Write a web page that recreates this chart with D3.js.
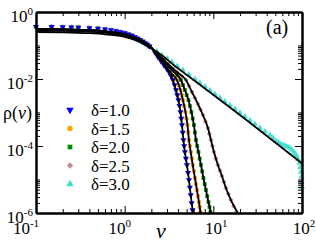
<!DOCTYPE html>
<html>
<head>
<meta charset="utf-8">
<script src="https://cdn.jsdelivr.net/npm/d3@7"></script>
<style>
body { margin: 0; background: #fff; }
</style>
</head>
<body>
<svg id="chart" width="316" height="242" font-family="'Times New Roman', 'Liberation Serif', Times, serif"></svg>
<script>
// tick labels
var xMajor = [0.1, 1, 10, 100];
var xExp = ["-1", "0", "1", "2"];
var xLabelShift = [-10, -5, 3, 2];
var yMajor = [1, 1e-2, 1e-4, 1e-6];
var yExp = ["0", "-2", "-4", "-6"];

// legend
var labels = ["\u03b4=1.0", "\u03b4=1.5", "\u03b4=2.0", "\u03b4=2.5", "\u03b4=3.0"];
var colors = ["#0000ff", "#ffa500", "#008b00", "#bc8f8f", "#40e0d0"];

// flat part of the distributions (same for all delta)
var vHead = [0.1, 0.15, 0.2, 0.25, 0.3, 0.4, 0.5, 0.6, 0.7, 0.8, 0.9, 1.0, 1.1, 1.2, 1.3, 1.4, 1.5, 1.6, 1.7, 1.8, 1.9];
var rhoHead = [0.364, 0.3615, 0.357, 0.352, 0.347, 0.335, 0.322, 0.307, 0.290, 0.271, 0.253, 0.236, 0.218, 0.199, 0.180, 0.162, 0.147, 0.132, 0.119, 0.107, 0.095];
var rhoHeadCyan = [0.36, 0.356, 0.35, 0.345, 0.34, 0.328, 0.314, 0.298, 0.280, 0.260, 0.242, 0.224, 0.206, 0.187, 0.169, 0.152, 0.138, 0.124, 0.112, 0.101, 0.092];

// tails, simulation points
var vD10 = [2.03, 2.2, 2.37, 2.57, 2.77, 2.97, 3.16, 3.33, 3.50, 3.65, 3.79, 3.92, 4.04, 4.15, 4.26, 4.35, 4.43, 4.52, 4.60, 4.69, 4.78, 4.91, 5.04, 5.18, 5.31, 5.44, 5.56, 5.69, 5.81];
var rhoD10 = [0.0842, 0.062, 0.0454, 0.034, 0.0262, 0.0205, 0.0162, 0.0124, 9.33e-3, 6.6e-3, 4.69e-3, 3.3e-3, 2.36e-3, 1.58e-3, 1.03e-3, 6.6e-4, 4.23e-4, 2.55e-4, 1.51e-4, 1.0e-4, 6.62e-5, 4.2e-5, 2.71e-5, 1.6e-5, 9.66e-6, 5.8e-6, 3.45e-6, 2.0e-6, 1.23e-6];
var vD15 = [2.03, 2.2, 2.41, 2.62, 2.85, 3.08, 3.33, 3.60, 3.89, 4.07, 4.26, 4.40, 4.54, 4.70, 4.85, 4.98, 5.11, 5.21, 5.31, 5.43, 5.56, 5.71, 5.86, 6.03, 6.20, 6.36, 6.53, 6.70, 6.88, 7.0, 7.15];
var rhoD15 = [0.0842, 0.062, 0.0454, 0.033, 0.0244, 0.019, 0.0151, 0.0118, 9.33e-3, 6.6e-3, 4.69e-3, 3.3e-3, 2.36e-3, 1.55e-3, 1.03e-3, 6.6e-4, 4.23e-4, 2.55e-4, 1.51e-4, 1.0e-4, 6.62e-5, 4.2e-5, 2.71e-5, 1.75e-5, 1.11e-5, 7.3e-6, 4.86e-6, 3.2e-6, 2.13e-6, 1.5e-6, 1.07e-6];
var vD20 = [2.03, 2.22, 2.44, 2.67, 2.92, 3.20, 3.50, 3.88, 4.31, 4.54, 4.78, 5.0, 5.24, 5.45, 5.66, 5.85, 6.04, 6.20, 6.37, 6.58, 6.79, 7.02, 7.25, 7.49, 7.73, 7.99, 8.25, 8.53, 8.81, 9.05, 9.28];
var rhoD20 = [0.0842, 0.064, 0.0486, 0.037, 0.0280, 0.022, 0.0173, 0.0128, 9.33e-3, 6.6e-3, 4.69e-3, 3.3e-3, 2.36e-3, 1.55e-3, 1.03e-3, 6.6e-4, 4.23e-4, 2.55e-4, 1.51e-4, 1.0e-4, 6.62e-5, 4.2e-5, 2.71e-5, 1.75e-5, 1.11e-5, 7.3e-6, 4.86e-6, 3.2e-6, 2.13e-6, 1.5e-6, 1.07e-6];
var vD25 = [2.03, 2.25, 2.50, 2.78, 3.08, 3.45, 3.89, 4.37, 4.91, 5.31, 5.74, 6.21, 6.71, 7.16, 7.63, 8.15, 8.69, 9.04, 9.40, 9.77, 10.16, 10.70, 11.27, 11.87, 12.50, 13.16, 13.87, 14.80, 15.79, 16.95, 18.21];
var rhoD25 = [0.0842, 0.064, 0.0486, 0.037, 0.0280, 0.021, 0.0162, 0.0123, 9.33e-3, 6.2e-3, 4.09e-3, 2.7e-3, 1.79e-3, 1.23e-3, 8.42e-4, 5.4e-4, 3.45e-4, 2.3e-4, 1.51e-4, 1.0e-4, 6.62e-5, 4.2e-5, 2.71e-5, 1.85e-5, 1.27e-5, 8.4e-6, 5.57e-6, 3.7e-6, 2.44e-6, 1.6e-6, 1.07e-6];
var vD30 = [2.03, 2.31, 2.63, 3.0, 3.41, 3.93, 4.54, 5.3, 6.20, 7.05, 8.04, 9.15, 10.42, 11.85, 13.51, 15.4, 17.52, 19.95, 22.72, 25.86, 29.44, 33.5, 38.16, 43.47, 47.0, 50.79, 54.2, 57.82, 61.7, 65.84, 69.4, 73.04, 77.0, 81.03, 84.3, 87.60, 90.5, 93.48, 95.5, 97.19, 98.45, 99.2, 99.75];
var rhoD30 = [0.0842, 0.066, 0.0520, 0.041, 0.0322, 0.0245, 0.0186, 0.0138, 0.0100, 7.7e-3, 5.97e-3, 4.6e-3, 3.57e-3, 2.75e-3, 2.13e-3, 1.65e-3, 1.27e-3, 9.8e-4, 7.60e-4, 5.9e-4, 4.54e-4, 3.5e-4, 2.71e-4, 2.13e-4, 1.75e-4, 1.41e-4, 1.27e-4, 1.15e-4, 1.07e-4, 1.0e-4, 9.3e-5, 8.71e-5, 7.6e-5, 6.62e-5, 5.8e-5, 5.03e-5, 4.0e-5, 3.11e-5, 2.3e-5, 1.67e-5, 1.2e-5, 8.2e-6, 5.97e-6];

// fitted curves (black lines)
var vFitHead = [0.1, 0.2, 0.4, 0.6, 0.8, 1.0, 1.3, 1.6, 2.0];
var rhoFitHead = [0.311, 0.304, 0.286, 0.265, 0.243, 0.220, 0.173, 0.132, 0.0871];
var rhoFitHead25 = [0.280, 0.275, 0.258, 0.241, 0.220, 0.200, 0.160, 0.123, 0.0842];
var rhoFitHead30 = [0.253, 0.248, 0.233, 0.217, 0.200, 0.182, 0.146, 0.115, 0.0813];
var vFit10 = [2.37, 2.77, 3.16, 3.50, 3.79, 4.04, 4.26, 4.43, 4.60, 4.78, 5.04, 5.31, 5.56, 5.89];
var rhoFit10 = [0.0454, 0.0262, 0.0162, 9.33e-3, 4.69e-3, 2.36e-3, 1.03e-3, 4.23e-4, 1.51e-4, 6.62e-5, 2.71e-5, 9.66e-6, 3.45e-6, 1.0e-6];
var vFit15 = [2.41, 2.85, 3.33, 3.89, 4.26, 4.54, 4.85, 5.11, 5.31, 5.56, 5.86, 6.20, 6.53, 6.88, 7.2];
var rhoFit15 = [0.0454, 0.0244, 0.0151, 9.33e-3, 4.69e-3, 2.36e-3, 1.03e-3, 4.23e-4, 1.51e-4, 6.62e-5, 2.71e-5, 1.11e-5, 4.86e-6, 2.13e-6, 1.0e-6];
var vFit20 = [2.44, 2.92, 3.50, 4.31, 4.78, 5.24, 5.66, 6.04, 6.37, 6.79, 7.25, 7.73, 8.25, 8.81, 9.4];
var rhoFit20 = [0.0486, 0.0280, 0.0173, 9.33e-3, 4.69e-3, 2.36e-3, 1.03e-3, 4.23e-4, 1.51e-4, 6.62e-5, 2.71e-5, 1.11e-5, 4.86e-6, 2.13e-6, 1.0e-6];
var vFit25 = [2.50, 3.08, 3.89, 4.91, 5.74, 6.71, 7.63, 8.69, 9.40, 10.16, 11.27, 12.50, 13.87, 15.79, 18.9];
var rhoFit25 = [0.0486, 0.0280, 0.0162, 9.33e-3, 4.09e-3, 1.79e-3, 8.42e-4, 3.45e-4, 1.51e-4, 6.62e-5, 2.71e-5, 1.27e-5, 5.57e-6, 2.44e-6, 1.0e-6];
var vFit30 = [2.5, 3.69, 5.45, 25.9, 100];
var rhoFit30 = [0.0558, 0.0244, 0.01124, 4.93e-4, 3.0e-5];

function zip(v, r) { return v.map(function(d, i) { return [d, r[i]]; }); }

var series = [
  zip(vHead, rhoHead).concat(zip(vD10, rhoD10).slice(1)),
  zip(vHead, rhoHead).concat(zip(vD15, rhoD15).slice(1)),
  zip(vHead, rhoHead).concat(zip(vD20, rhoD20).slice(1)),
  zip(vHead, rhoHead).concat(zip(vD25, rhoD25).slice(1)),
  zip(vHead, rhoHeadCyan).concat(zip(vD30, rhoD30).slice(1))
];
var fits = [
  zip(vFitHead, rhoFitHead).concat(zip(vFit10, rhoFit10)),
  zip(vFitHead, rhoFitHead).concat(zip(vFit15, rhoFit15)),
  zip(vFitHead, rhoFitHead).concat(zip(vFit20, rhoFit20)),
  zip(vFitHead, rhoFitHead25).concat(zip(vFit25, rhoFit25)),
  zip(vFitHead, rhoFitHead30).concat(zip(vFit30, rhoFit30))
];

var svg = d3.select("#chart");
var pLeft = 36, pRight = 302, pTop = 12, pBottom = 213;

var x = d3.scaleLog().domain([0.1, 100]).range([pLeft, pRight]);
var y = d3.scaleLog().domain([1e-6, 1]).range([pBottom, pTop]);

// minor ticks
var xMinor = [];
[0.1, 1, 10].forEach(function(b) { for (var m = 2; m <= 9; m++) xMinor.push(b * m); });
var yMinor = [];
[1e-2, 1e-4, 1e-6].forEach(function(b) { for (var m = 2; m <= 10; m++) yMinor.push(b * m); });

svg.append("defs").append("clipPath").attr("id", "clip")
  .append("rect").attr("x", pLeft).attr("y", pTop).attr("width", pRight - pLeft).attr("height", pBottom - pTop);

// symbols
var symbols = [
  d3.symbol().type(d3.symbolTriangle).size(16),
  d3.symbol().type(d3.symbolCircle).size(16),
  d3.symbol().type(d3.symbolSquare).size(14),
  d3.symbol().type(d3.symbolSquare).size(13),
  d3.symbol().type(d3.symbolTriangle).size(16)
];
var legSymbols = [
  d3.symbol().type(d3.symbolTriangle).size(24),
  d3.symbol().type(d3.symbolCircle).size(24),
  d3.symbol().type(d3.symbolSquare).size(22),
  d3.symbol().type(d3.symbolSquare).size(20),
  d3.symbol().type(d3.symbolTriangle).size(24)
];
var rot = [180, 0, 0, 45, 0];

var order = [4, 3, 2, 1, 0];
order.forEach(function(k) {
  svg.append("g")
    .selectAll("path")
    .data(series[k])
    .enter()
    .append("path")
    .attr("d", symbols[k])
    .attr("fill", colors[k])
    .attr("transform", function(d) { return "translate(" + x(d[0]) + "," + y(d[1]) + ") rotate(" + rot[k] + ")"; });
});

var line = d3.line()
  .x(function(d) { return x(d[0]); })
  .y(function(d) { return y(d[1]); })
  .curve(d3.curveMonotoneX);

svg.append("g").attr("clip-path", "url(#clip)")
  .selectAll("path")
  .data(fits)
  .enter()
  .append("path")
  .attr("d", line)
  .attr("fill", "none")
  .attr("stroke", "#000")
  .attr("stroke-width", 1.8);

// axes, ticks pointing inside
function axisGroup(axis, tx, ty) {
  var g = svg.append("g").attr("transform", "translate(" + tx + "," + ty + ")").call(axis);
  g.selectAll("text").remove();
  g.selectAll("line").attr("stroke", "#000").attr("stroke-width", 1);
  g.select(".domain").attr("stroke", "#000").attr("stroke-width", 2);
  return g;
}
axisGroup(d3.axisBottom(x).tickValues(xMajor).tickSize(-7).tickSizeOuter(0), 0, pBottom);
axisGroup(d3.axisBottom(x).tickValues(xMinor).tickSize(-4).tickSizeOuter(0), 0, pBottom);
axisGroup(d3.axisTop(x).tickValues(xMajor).tickSize(-7).tickSizeOuter(0), 0, pTop);
axisGroup(d3.axisTop(x).tickValues(xMinor).tickSize(-4).tickSizeOuter(0), 0, pTop);
axisGroup(d3.axisLeft(y).tickValues(yMajor).tickSize(-7).tickSizeOuter(0), pLeft, 0);
axisGroup(d3.axisLeft(y).tickValues(yMinor).tickSize(-4).tickSizeOuter(0), pLeft, 0);
axisGroup(d3.axisRight(y).tickValues(yMajor).tickSize(-7).tickSizeOuter(0), pRight, 0);
axisGroup(d3.axisRight(y).tickValues(yMinor).tickSize(-4).tickSizeOuter(0), pRight, 0);

// tick labels with exponents
var xl = svg.selectAll(".xl").data(xMajor).enter().append("text")
  .attr("class", "xl")
  .attr("x", function(d, i) { return x(d) + xLabelShift[i]; })
  .attr("y", 234)
  .attr("text-anchor", "middle")
  .style("font-size", "17px")
  .text("10");
xl.append("tspan").attr("dy", -7).style("font-size", "11px").text(function(d, i) { return xExp[i]; });

var yl = svg.selectAll(".yl").data(yMajor).enter().append("text")
  .attr("class", "yl")
  .attr("x", 33)
  .attr("y", function(d) { return y(d) + 10; })
  .attr("text-anchor", "end")
  .style("font-size", "17px")
  .text("10");
yl.append("tspan").attr("dy", -7).style("font-size", "11px").text(function(d, i) { return yExp[i]; });

// axis titles
svg.append("text").attr("x", 161).attr("y", 238).attr("text-anchor", "middle")
  .style("font-size", "22px").style("font-style", "italic").text("v");
var yt = svg.append("text").attr("x", 3).attr("y", 119).style("font-size", "18px").text("\u03c1(");
yt.append("tspan").style("font-style", "italic").text("v");
yt.append("tspan").text(")");

svg.append("text").attr("x", 266).attr("y", 34).style("font-size", "20px").text("(a)");

// legend
var leg = svg.selectAll(".leg").data(labels).enter().append("g")
  .attr("class", "leg")
  .attr("transform", function(d, i) { return "translate(70," + (110 + i * 18.5) + ")"; });
leg.append("path")
  .attr("d", function(d, i) { return legSymbols[i](); })
  .attr("fill", function(d, i) { return colors[i]; })
  .attr("transform", function(d, i) { return "rotate(" + rot[i] + ")"; });
leg.append("text").attr("x", 21).attr("y", 6).style("font-size", "17px").text(function(d) { return d; });
</script>
</body>
</html>
